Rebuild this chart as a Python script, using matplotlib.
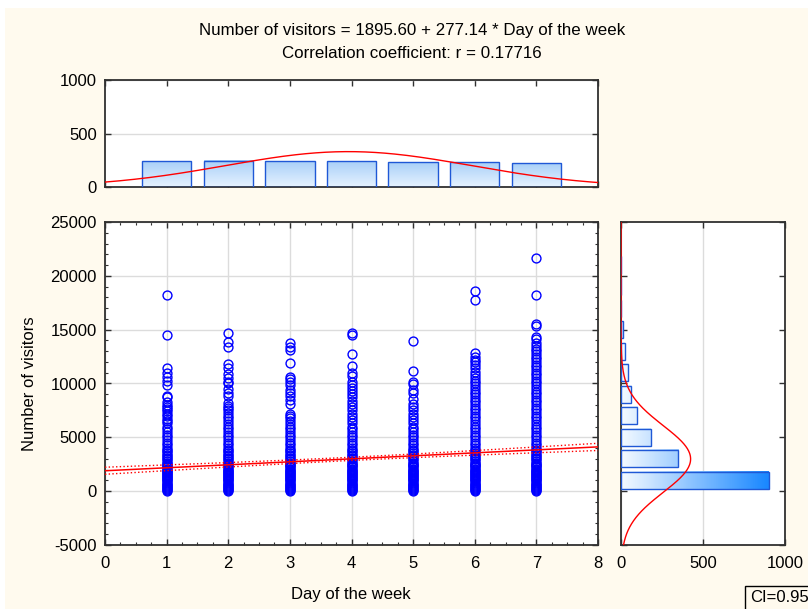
import numpy as np
import matplotlib
matplotlib.use('Agg')
import matplotlib.pyplot as plt
from matplotlib.colors import LinearSegmentedColormap
from matplotlib.patches import Rectangle
from matplotlib.ticker import MultipleLocator

plt.rcParams['font.family'] = ['Liberation Sans', 'DejaVu Sans']
plt.rcParams['font.size'] = 12
plt.rcParams['axes.unicode_minus'] = False

# regression summary (from the chart title)
intercept = 1895.60
slope = 277.14
r_value = 0.17716

# top histogram: cases per day of the week
days = [1, 2, 3, 4, 5, 6, 7]
day_counts = [239, 245, 239, 239, 233, 231, 223]

# right histogram: visitors, bins of 2000
bin_centers = [1000, 3000, 5000, 7000, 9000, 11000, 13000, 15000, 17000, 19000, 21000]
bin_counts = [902, 348, 181, 98, 63, 45, 22, 10, 1, 3, 1]
visitors_sd = 3100

# scatter columns (solid part shared by all days)
core = [0, 100, 200, 300, 400, 500, 600, 700, 800, 900, 1000, 1100, 1200, 1300,
        1400, 1500, 1600, 1700, 1800, 1900, 2000, 2100, 2200, 2300, 2400, 2500,
        2650, 2800, 2950, 3100, 3250, 3400, 3550, 3700, 3850, 4000]
day1 = core + [4250, 4500, 4750, 5000, 5250, 5500, 5750, 6000, 6300, 6500, 6700,
               7000, 7200, 7400, 7600, 7800, 8000, 8300, 8700, 8800, 9900, 10200,
               10600, 11000, 11400, 14500, 18200]
day2 = core + [4250, 4500, 4750, 5000, 5250, 5500, 5750, 6000, 6250, 6500, 6750,
               7000, 7250, 7500, 7700, 7900, 8150, 8800, 9100, 9500, 10000, 10100,
               10500, 10900, 11400, 11800, 13400, 13900, 14650]
day3 = core + [4250, 4500, 4750, 5000, 5250, 5500, 5750, 6000, 6250, 6500, 6750,
               7000, 7200, 8100, 8450, 8800, 9100, 9400, 9850, 10150, 10400, 10650,
               11900, 13100, 13400, 13750]
day4 = core + [4250, 4500, 4750, 5000, 5250, 5500, 5750, 6000, 6300, 6600, 6900,
               7200, 7500, 7800, 8100, 8400, 8700, 9000, 9300, 9550, 9850, 10150,
               10700, 10950, 11600, 12750, 14500, 14650]
day5 = core + [4250, 4500, 4750, 5000, 5250, 5500, 5750, 6000, 6300, 6600, 6900,
               7200, 7500, 7800, 8100, 8600, 9100, 9400, 9950, 10100, 11200, 13950]
day6 = core + [4250, 4500, 4750, 5000, 5250, 5500, 5750, 6000, 6250, 6500, 6750,
               7000, 7250, 7500, 7750, 8000, 8250, 8500, 8750, 9000, 9250, 9500,
               9750, 10000, 10250, 10500, 10800, 11100, 11400, 11700, 12000, 12200,
               12500, 12800, 17750, 18600]
day7 = core + [4250, 4500, 4750, 5000, 5250, 5500, 5750, 6000, 6250, 6500, 6750,
               7000, 7250, 7500, 7750, 8000, 8250, 8500, 8750, 9000, 9250, 9500,
               9750, 10000, 10250, 10500, 10750, 11000, 11250, 11500, 11750, 12000,
               12250, 12500, 12750, 13000, 13200, 13500, 13800, 14100, 14350, 15350,
               15500, 18200, 21700]
visitors_by_day = [day1, day2, day3, day4, day5, day6, day7]

# summary stats for the fitted curves
n_total = sum(day_counts)
mean_x = sum(d * c for d, c in zip(days, day_counts)) / n_total
sd_x = np.sqrt(sum(c * (d - mean_x) ** 2 for d, c in zip(days, day_counts)) / n_total)
mean_y = intercept + slope * mean_x

BLUE_EDGE = '#1f58d6'
SPINE = '#303030'
GRID = '#dcdcdc'


def normal_pdf(v, mu, sd):
    return np.exp(-0.5 * ((v - mu) / sd) ** 2) / (sd * np.sqrt(2 * np.pi))


def style(ax):
    for s in ax.spines.values():
        s.set_color(SPINE)
        s.set_linewidth(1.3)
    ax.tick_params(which='both', direction='in', top=True, right=True, color=SPINE)
    ax.tick_params(which='major', length=4, width=1)
    ax.tick_params(axis='y', which='major', pad=6)
    ax.tick_params(axis='x', which='major', pad=8)
    ax.tick_params(which='minor', length=2.5, width=0.8)
    ax.set_axisbelow(True)


fig = plt.figure(figsize=(8.08, 6.09), dpi=100)
fig.patch.set_facecolor('white')
fig.patches.append(Rectangle((5 / 808, 0), 1, 1 - 8 / 609, transform=fig.transFigure,
                             fc='#FFFAEE', ec='none', zorder=-10))

ax_main = fig.add_axes([105 / 808, 64 / 609, 493 / 808, 323 / 609])
ax_top = fig.add_axes([105 / 808, 422 / 609, 493 / 808, 107 / 609])
ax_right = fig.add_axes([621 / 808, 64 / 609, 164 / 808, 323 / 609])

# ===== main scatter =====
style(ax_main)
ax_main.grid(True, which='major', color=GRID, lw=1)
for d, vals in zip(days, visitors_by_day):
    ax_main.plot([d] * len(vals), vals, 'o', ms=6.4, mfc='none', mec='#0000ff',
                 mew=1.0, zorder=3)

xs = np.linspace(0, 8, 200)
fit = intercept + slope * xs
s_res = visitors_sd * np.sqrt(1 - r_value ** 2)
half = 1.96 * s_res * np.sqrt(1 / n_total + (xs - mean_x) ** 2 / (n_total * sd_x ** 2))
ax_main.plot(xs, fit, color='red', lw=1.1, zorder=4)
ax_main.plot(xs, fit + half, color='red', lw=1, ls=':', zorder=4)
ax_main.plot(xs, fit - half, color='red', lw=1, ls=':', zorder=4)

ax_main.set_xlim(0, 8)
ax_main.set_ylim(-5000, 25000)
ax_main.xaxis.set_major_locator(MultipleLocator(1))
ax_main.xaxis.set_minor_locator(MultipleLocator(0.25))
ax_main.yaxis.set_major_locator(MultipleLocator(5000))
ax_main.yaxis.set_minor_locator(MultipleLocator(1000))

# ===== top histogram =====
style(ax_top)
ax_top.grid(True, axis='y', which='major', color=GRID, lw=1)
top_cmap = LinearSegmentedColormap.from_list('topg', ['#e6f2ff', '#a9d0f8'])
grad_v = np.linspace(0, 1, 64).reshape(-1, 1)
for d, c in zip(days, day_counts):
    ax_top.imshow(grad_v, extent=[d - 0.4, d + 0.4, 0, c], cmap=top_cmap,
                  aspect='auto', origin='lower', zorder=2)
ax_top.bar(days, day_counts, width=0.8, fill=False, edgecolor=BLUE_EDGE, lw=1, zorder=3)
ax_top.plot(xs, n_total * normal_pdf(xs, mean_x, sd_x), color='red', lw=1, zorder=4)
ax_top.set_xlim(0, 8)
ax_top.set_ylim(0, 1000)
ax_top.set_xticks(range(0, 9))
ax_top.set_xticklabels([])
ax_top.set_yticks([0, 500, 1000])

# ===== right histogram =====
style(ax_right)
ax_right.grid(True, axis='x', which='major', color=GRID, lw=1)
right_cmap = LinearSegmentedColormap.from_list('rg', ['#f4faff', '#1a88ff'])
for yc, c in zip(bin_centers, bin_counts):
    grad_h = np.linspace(0, c / 900, 64).reshape(1, -1)
    ax_right.imshow(grad_h, extent=[0, c, yc - 800, yc + 800], cmap=right_cmap,
                    vmin=0, vmax=1, aspect='auto', origin='lower', zorder=2)
ax_right.barh(bin_centers, bin_counts, height=1600, fill=False, edgecolor=BLUE_EDGE,
              lw=1, zorder=3)
ys = np.linspace(-5000, 25000, 400)
ax_right.plot(n_total * 2000 * normal_pdf(ys, mean_y, visitors_sd), ys, color='red',
              lw=1, zorder=4)
ax_right.set_xlim(0, 1000)
ax_right.set_ylim(-5000, 25000)
ax_right.set_xticks([0, 500, 1000])
ax_right.yaxis.set_major_locator(MultipleLocator(5000))
ax_right.set_yticklabels([])

# ===== texts =====
fig.text(412 / 808, 1 - 31 / 609, 'Number of visitors = 1895.60 + 277.14 * Day of the week',
         ha='center', va='center', fontsize=12.2)
fig.text(412 / 808, 1 - 54 / 609, 'Correlation coefficient: r = 0.17716',
         ha='center', va='center', fontsize=12.2)
fig.text(30 / 808, 1 - 384 / 609, 'Number of visitors', rotation=90,
         ha='center', va='center', fontsize=12)
fig.text(351 / 808, 1 - 594 / 609, 'Day of the week', ha='center', va='center', fontsize=12)
fig.text(750 / 808, 1 - 598 / 609, 'CI=0.95', ha='left', va='center', fontsize=12,
         bbox=dict(boxstyle='square,pad=0.3', fc='none', ec='black', lw=1))

fig.savefig('out.png', dpi=100, facecolor=fig.get_facecolor())
